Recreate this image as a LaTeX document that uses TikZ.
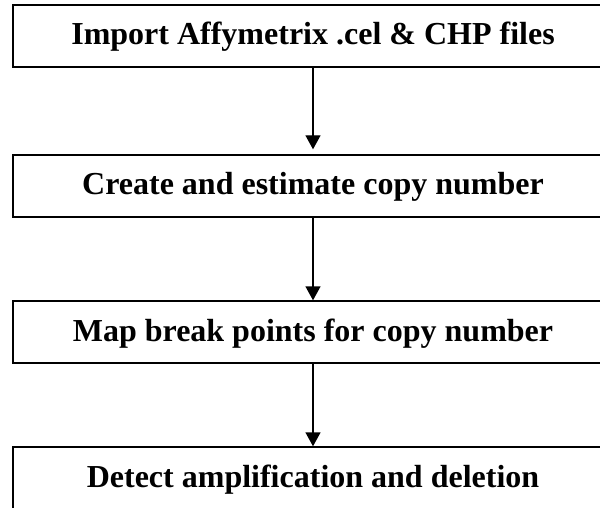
\documentclass[tikz,border=0pt]{standalone}
\usepackage{fontspec}
\setmainfont{Liberation Serif}
\usetikzlibrary{arrows.meta}
\begin{document}
\begin{tikzpicture}[x=1pt,y=-1pt,
  stepbox/.style={draw=black, line width=1.4pt, minimum width=600pt,
    minimum height=62pt, inner sep=0pt, text height=21pt, text depth=3pt,
    font=\fontsize{32}{38}\selectfont\bfseries},
  flow/.style={line width=1.4pt, -{Triangle[width=15pt,length=14pt]}}]
  \clip (0,0) rectangle (600,508);
  \node[stepbox] (import) at (313,36)  {Import Affymetrix .cel \& CHP files};
  \node[stepbox] (create) at (313,186) {Create and estimate copy number};
  \node[stepbox] (map)    at (313,332) {Map break points for copy number};
  \node[stepbox] (detect) at (313,478) {Detect amplification and deletion};
  \draw[flow, shorten >=5pt] (import) -- (create);
  \draw[flow] (create) -- (map);
  \draw[flow] (map) -- (detect);
\end{tikzpicture}
\end{document}
